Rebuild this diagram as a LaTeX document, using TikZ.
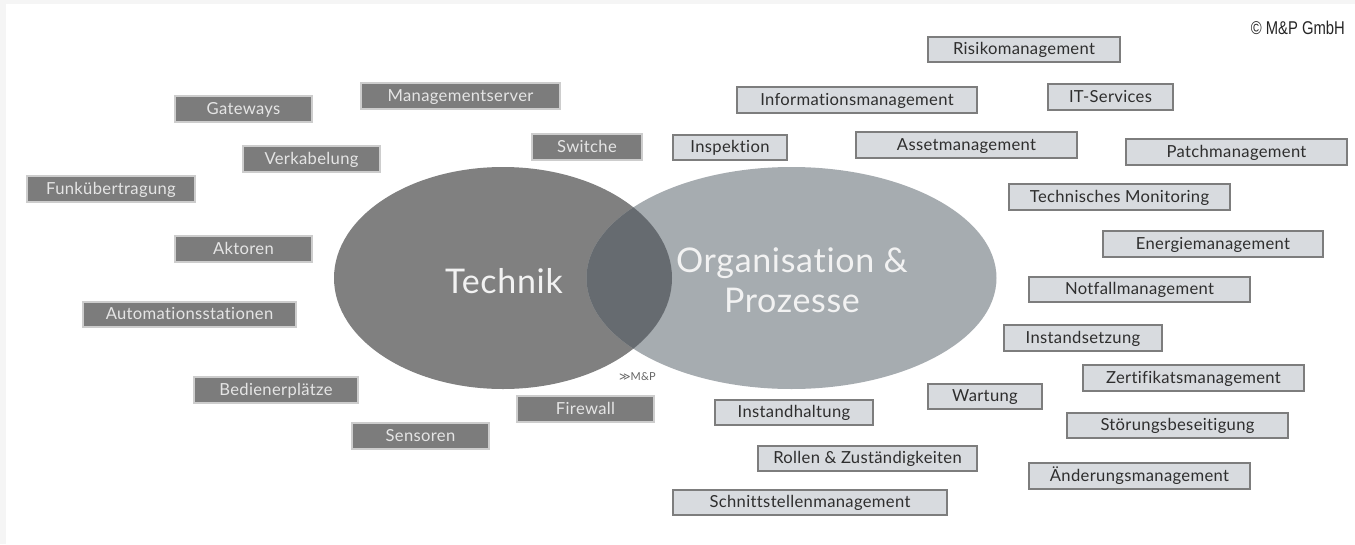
\documentclass[tikz,border=0pt]{standalone}
\usetikzlibrary{shapes.geometric}
\usepackage{fontspec}
\setmainfont[LetterSpace=2.0,Ligatures=NoCommon]{Lato}
\newfontfamily\copyfont{Liberation Sans}
\newfontfamily\symfont{DejaVu Sans}
\definecolor{techc}{RGB}{128,128,128}
\definecolor{orgc}{RGB}{166,172,176}
\definecolor{overc}{RGB}{102,107,112}
\definecolor{lightbox}{RGB}{216,219,223}
\definecolor{lightedge}{RGB}{125,125,125}
\definecolor{darkbox}{RGB}{124,124,124}
\definecolor{darkedge}{RGB}{205,205,205}
\definecolor{edgegrey}{RGB}{245,245,245}
\newcommand{\bx}[7]{\node[#1,minimum width=#5pt-#4pt,minimum height=#7pt-#6pt] (#2) at ({(#4+#5)/2},{(#6+#7)/2}) {#3};}
\begin{document}
\begin{tikzpicture}[x=1pt,y=-1pt,
 dk/.style={rectangle,fill=darkbox,draw=darkedge,line width=1.4pt,text=white!90!black,font=\fontsize{16.6}{18}\selectfont,inner sep=0pt,text height=10pt,text depth=0pt},
 lt/.style={rectangle,fill=lightbox,draw=lightedge,line width=1.4pt,text=black!82,font=\fontsize{16.6}{18}\selectfont,inner sep=0pt,text height=10pt,text depth=0pt},
 blob/.style={ellipse,inner sep=0pt,minimum height=222pt},
 big/.style={text=white!95!black,font=\fontsize{34}{40}\selectfont,inner sep=0pt}]
\useasboundingbox (0,0) rectangle (1355,544);
\fill[white] (0,0) rectangle (1355,544);
\fill[edgegrey] (0,0) rectangle (1355,4);
\fill[edgegrey] (0,0) rectangle (6,544);
\node[blob,fill=techc,minimum width=338pt] (tech) at (503,278) {};
\node[blob,fill=orgc,minimum width=410pt] (org) at (791.5,278) {};
\begin{scope}
\clip (503,278) ellipse [x radius=169pt,y radius=111pt];
\fill[overc] (791.5,278) ellipse [x radius=205pt,y radius=111pt];
\end{scope}
\node[big] (t1) at (504,281) {Technik};
\node[big,align=center] (t2) at (792,280) {Organisation \&\\Prozesse};
\bx{dk}{gw}{Gateways}{175}{312}{96}{122}
\bx{dk}{ms}{Managementserver}{361}{560}{83}{109}
\bx{dk}{sw}{Switche}{532}{642}{134}{160}
\bx{dk}{vk}{Verkabelung}{243}{380}{146}{172}
\bx{dk}{fu}{Funkübertragung}{27}{195}{176}{202}
\bx{dk}{ak}{Aktoren}{175}{312}{236}{262}
\bx{dk}{au}{Automationsstationen}{83}{296}{302}{327}
\bx{dk}{be}{Bedienerplätze}{194}{358}{377}{403}
\bx{dk}{se}{Sensoren}{352}{489}{423}{449}
\bx{dk}{fw}{Firewall}{517}{654}{396}{422}
\bx{lt}{ri}{Risikomanagement}{928}{1120}{37}{62}
\bx{lt}{inf}{Informationsmanagement}{737}{977}{87}{113}
\bx{lt}{it}{IT-Services}{1048}{1173}{84}{110}
\bx{lt}{ins}{Inspektion}{673}{787}{135}{160}
\bx{lt}{as}{Assetmanagement}{856}{1077}{132}{158}
\bx{lt}{pa}{Patchmanagement}{1126}{1347}{139}{165}
\bx{lt}{tm}{Technisches Monitoring}{1009}{1230}{184}{210}
\bx{lt}{en}{Energiemanagement}{1103}{1323}{231}{257}
\bx{lt}{no}{Notfallmanagement}{1029}{1250}{277}{302}
\bx{lt}{is}{Instandsetzung}{1004}{1162}{325}{351}
\bx{lt}{ze}{Zertifikatsmanagement}{1083}{1304}{365}{391}
\bx{lt}{wa}{Wartung}{928}{1042}{384}{409}
\bx{lt}{ih}{Instandhaltung}{715}{873}{400}{425}
\bx{lt}{st}{Störungsbeseitigung}{1067}{1288}{413}{438}
\bx{lt}{ro}{Rollen \& Zuständigkeiten}{758}{977}{446}{471}
\bx{lt}{ae}{Änderungsmanagement}{1029}{1250}{463}{489}
\bx{lt}{sc}{Schnittstellenmanagement}{673}{947}{490}{515}
\node[anchor=east,inner sep=0pt,text=black!85,xscale=.8,font=\copyfont\fontsize{18.5}{20}\selectfont] (cp) at (1345,28) {© M\&P GmbH};
\node[anchor=center,inner sep=0pt,text=black!60,font=\fontsize{11}{12}\selectfont] (lg) at (637.5,377) {{\symfont ≫}M\&P};
\end{tikzpicture}
\end{document}
